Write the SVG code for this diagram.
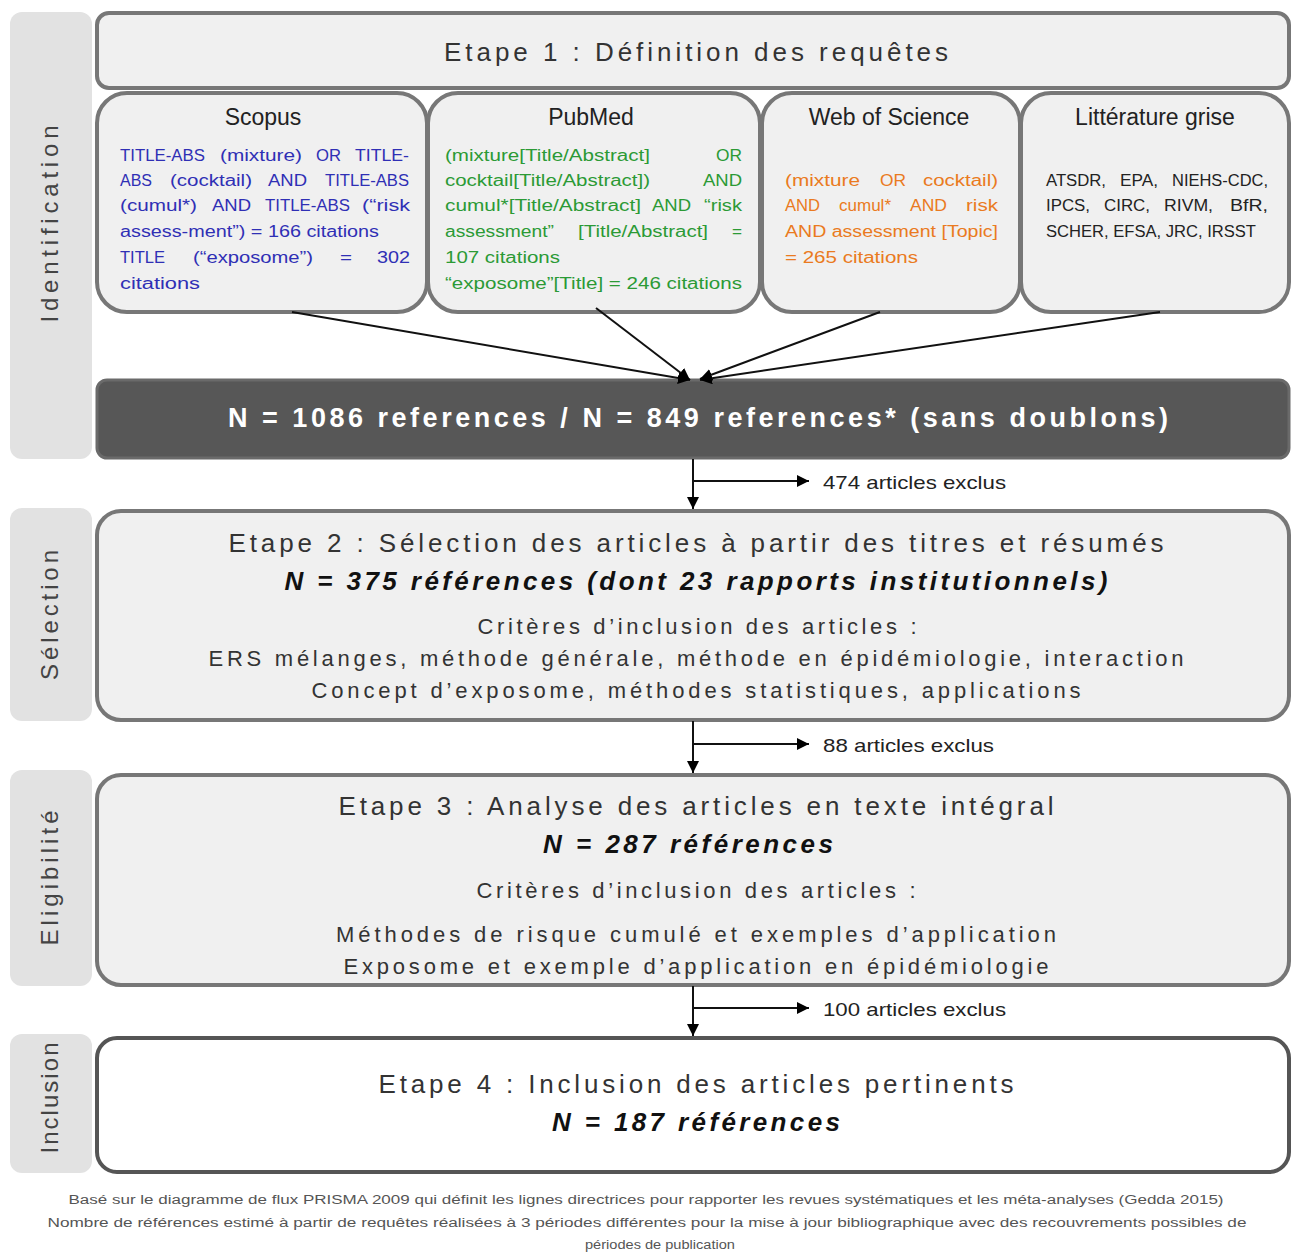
<svg xmlns="http://www.w3.org/2000/svg" width="1292" height="1254" viewBox="0 0 1292 1254">
<defs>
<marker id="ah" viewBox="0 0 10 10" refX="10" refY="5" markerWidth="12" markerHeight="12" markerUnits="userSpaceOnUse" orient="auto"><path d="M0,0 L10,5 L0,10 z" fill="#000"/></marker>
<style>
.side{fill:#e2e2e2}
.sideT{font-family:"Liberation Sans",Arial,sans-serif;font-size:24px;fill:#444;text-anchor:middle}
.box{fill:#f0f0f0;stroke:#777;stroke-width:4}
.src{fill:#f0f0f0;stroke:#777;stroke-width:4}
.t{font-family:"Liberation Sans",Arial,sans-serif;fill:#333;text-anchor:middle}
.big{font-size:26px}
.bi{font-size:26px;font-weight:bold;font-style:italic;fill:#111}
.mid{font-size:22px}
.ttl{font-family:"Liberation Sans",Arial,sans-serif;font-size:23px;fill:#222;text-anchor:middle}
.q{font-family:"Liberation Sans",Arial,sans-serif;font-size:16px}
.blue{fill:#2f2fb5}
.green{fill:#2b9a35}
.orange{fill:#ea7a20}
.dark{fill:#222}
.conn{stroke:#111;stroke-width:2;fill:none}
.ex{font-family:"Liberation Sans",Arial,sans-serif;font-size:19px;fill:#222}
.foot{font-family:"Liberation Sans",Arial,sans-serif;font-size:12.5px;fill:#555;text-anchor:middle}
</style>
</defs>
<rect width="1292" height="1254" fill="#fff"/>

<g id="lane-identification">
<rect class="side" x="10" y="12" width="82" height="447" rx="12"/>
<text class="sideT" transform="translate(58,224) rotate(-90)" textLength="197" lengthAdjust="spacing">Identification</text>
</g>
<g id="lane-selection">
<rect class="side" x="10" y="508" width="82" height="213" rx="12"/>
<text class="sideT" transform="translate(58,615) rotate(-90)" textLength="130" lengthAdjust="spacing">Sélection</text>
</g>
<g id="lane-eligibilite">
<rect class="side" x="10" y="770" width="82" height="216" rx="12"/>
<text class="sideT" transform="translate(58,878) rotate(-90)" textLength="135" lengthAdjust="spacing">Eligibilité</text>
</g>
<g id="lane-inclusion">
<rect class="side" x="10" y="1034" width="82" height="139" rx="12"/>
<text class="sideT" transform="translate(58,1098) rotate(-90)" textLength="111" lengthAdjust="spacing">Inclusion</text>
</g>

<g id="etape1">
<rect class="box" x="97" y="13" width="1192" height="75" rx="12"/>
<text class="t big" x="696" y="61" textLength="504" lengthAdjust="spacing">Etape 1 : Définition des requêtes</text>
</g>

<g id="scopus">
<rect class="src" x="97" y="93" width="330" height="219" rx="30"/>
<text class="ttl" x="263" y="125">Scopus</text>
<g class="q blue">
<text x="120" y="161" textLength="85" lengthAdjust="spacingAndGlyphs">TITLE-ABS</text>
<text x="220" y="161" textLength="82" lengthAdjust="spacingAndGlyphs">(mixture)</text>
<text x="316" y="161" textLength="25" lengthAdjust="spacingAndGlyphs">OR</text>
<text x="355" y="161" textLength="54" lengthAdjust="spacingAndGlyphs">TITLE-</text>
<text x="120" y="186" textLength="32" lengthAdjust="spacingAndGlyphs">ABS</text>
<text x="170" y="186" textLength="82" lengthAdjust="spacingAndGlyphs">(cocktail)</text>
<text x="268" y="186" textLength="39" lengthAdjust="spacingAndGlyphs">AND</text>
<text x="325" y="186" textLength="84" lengthAdjust="spacingAndGlyphs">TITLE-ABS</text>
<text x="120" y="211" textLength="77" lengthAdjust="spacingAndGlyphs">(cumul*)</text>
<text x="212" y="211" textLength="39" lengthAdjust="spacingAndGlyphs">AND</text>
<text x="265" y="211" textLength="85" lengthAdjust="spacingAndGlyphs">TITLE-ABS</text>
<text x="362" y="211" textLength="48" lengthAdjust="spacingAndGlyphs">(“risk</text>
<text x="120" y="237" textLength="259" lengthAdjust="spacingAndGlyphs">assess-ment”) = 166 citations</text>
<text x="120" y="263" textLength="45" lengthAdjust="spacingAndGlyphs">TITLE</text>
<text x="193" y="263" textLength="120" lengthAdjust="spacingAndGlyphs">(“exposome”)</text>
<text x="340" y="263" textLength="12" lengthAdjust="spacingAndGlyphs">=</text>
<text x="377" y="263" textLength="33" lengthAdjust="spacingAndGlyphs">302</text>
<text x="120" y="289" textLength="80" lengthAdjust="spacingAndGlyphs">citations</text>
</g>
</g>

<g id="pubmed">
<rect class="src" x="428" y="93" width="332" height="219" rx="30"/>
<text class="ttl" x="591" y="125">PubMed</text>
<g class="q green">
<text x="445" y="161" textLength="205" lengthAdjust="spacingAndGlyphs">(mixture[Title/Abstract]</text>
<text x="716" y="161" textLength="26" lengthAdjust="spacingAndGlyphs">OR</text>
<text x="445" y="186" textLength="205" lengthAdjust="spacingAndGlyphs">cocktail[Title/Abstract])</text>
<text x="703" y="186" textLength="39" lengthAdjust="spacingAndGlyphs">AND</text>
<text x="445" y="211" textLength="196" lengthAdjust="spacingAndGlyphs">cumul*[Title/Abstract]</text>
<text x="652" y="211" textLength="39" lengthAdjust="spacingAndGlyphs">AND</text>
<text x="704" y="211" textLength="38" lengthAdjust="spacingAndGlyphs">“risk</text>
<text x="445" y="237" textLength="109" lengthAdjust="spacingAndGlyphs">assessment”</text>
<text x="578" y="237" textLength="130" lengthAdjust="spacingAndGlyphs">[Title/Abstract]</text>
<text x="732" y="237" textLength="10" lengthAdjust="spacingAndGlyphs">=</text>
<text x="445" y="263" textLength="115" lengthAdjust="spacingAndGlyphs">107 citations</text>
<text x="445" y="289" textLength="297" lengthAdjust="spacingAndGlyphs">“exposome”[Title] = 246 citations</text>
</g>
</g>

<g id="wos">
<rect class="src" x="762" y="93" width="258" height="219" rx="30"/>
<text class="ttl" x="889" y="125">Web of Science</text>
<g class="q orange">
<text x="785" y="186" textLength="75" lengthAdjust="spacingAndGlyphs">(mixture</text>
<text x="880" y="186" textLength="26" lengthAdjust="spacingAndGlyphs">OR</text>
<text x="923" y="186" textLength="75" lengthAdjust="spacingAndGlyphs">cocktail)</text>
<text x="785" y="211" textLength="35" lengthAdjust="spacingAndGlyphs">AND</text>
<text x="839" y="211" textLength="52" lengthAdjust="spacingAndGlyphs">cumul*</text>
<text x="910" y="211" textLength="37" lengthAdjust="spacingAndGlyphs">AND</text>
<text x="966" y="211" textLength="32" lengthAdjust="spacingAndGlyphs">risk</text>
<text x="785" y="237" textLength="213" lengthAdjust="spacingAndGlyphs">AND assessment [Topic]</text>
<text x="785" y="263" textLength="133" lengthAdjust="spacingAndGlyphs">= 265 citations</text>
</g>
</g>

<g id="litterature">
<rect class="src" x="1021" y="93" width="268" height="219" rx="30"/>
<text class="ttl" x="1155" y="125">Littérature grise</text>
<g class="q dark">
<text x="1046" y="186" textLength="60" lengthAdjust="spacingAndGlyphs">ATSDR,</text>
<text x="1120" y="186" textLength="38" lengthAdjust="spacingAndGlyphs">EPA,</text>
<text x="1172" y="186" textLength="96" lengthAdjust="spacingAndGlyphs">NIEHS-CDC,</text>
<text x="1046" y="211" textLength="44" lengthAdjust="spacingAndGlyphs">IPCS,</text>
<text x="1104" y="211" textLength="46" lengthAdjust="spacingAndGlyphs">CIRC,</text>
<text x="1164" y="211" textLength="49" lengthAdjust="spacingAndGlyphs">RIVM,</text>
<text x="1230" y="211" textLength="38" lengthAdjust="spacingAndGlyphs">BfR,</text>
<text x="1046" y="237" textLength="210" lengthAdjust="spacingAndGlyphs">SCHER, EFSA, JRC, IRSST</text>
</g>
</g>

<g id="total">
<rect x="97" y="380" width="1192" height="78" rx="10" fill="#575757" stroke="#6a6a6a" stroke-width="3"/>
<text x="698" y="427" font-family="'Liberation Sans',Arial,sans-serif" font-size="27" font-weight="bold" fill="#fff" text-anchor="middle" textLength="940" lengthAdjust="spacing">N = 1086  references  /  N = 849  references*  (sans doublons)</text>
</g>

<g id="etape2">
<rect class="box" x="97" y="511" width="1192" height="209" rx="24"/>
<text class="t big" x="696" y="552" textLength="935" lengthAdjust="spacing">Etape 2 : Sélection des articles à partir des titres et résumés</text>
<text class="t bi" x="696" y="590" textLength="823" lengthAdjust="spacing">N = 375 références (dont 23 rapports institutionnels)</text>
<text class="t mid" x="697" y="634" textLength="439" lengthAdjust="spacing">Critères d’inclusion des articles :</text>
<text class="t mid" x="696" y="666" textLength="975" lengthAdjust="spacing">ERS mélanges, méthode générale, méthode en épidémiologie, interaction</text>
<text class="t mid" x="696" y="698" textLength="769" lengthAdjust="spacing">Concept d’exposome, méthodes statistiques, applications</text>
</g>

<g id="etape3">
<rect class="box" x="97" y="775" width="1192" height="210" rx="24"/>
<text class="t big" x="696" y="815" textLength="715" lengthAdjust="spacing">Etape 3 : Analyse des articles en texte intégral</text>
<text class="t bi" x="688" y="853" textLength="290" lengthAdjust="spacing">N = 287 références</text>
<text class="t mid" x="696" y="898" textLength="439" lengthAdjust="spacing">Critères d’inclusion des articles :</text>
<text class="t mid" x="696" y="942" textLength="720" lengthAdjust="spacing">Méthodes de risque cumulé et exemples d’application</text>
<text class="t mid" x="696" y="974" textLength="705" lengthAdjust="spacing">Exposome et exemple d’application en épidémiologie</text>
</g>

<g id="etape4">
<rect x="97" y="1038" width="1192" height="134" rx="20" fill="#fff" stroke="#555" stroke-width="4"/>
<text class="t big" x="696" y="1093" textLength="635" lengthAdjust="spacing">Etape 4 : Inclusion des articles pertinents</text>
<text class="t bi" x="696" y="1131" textLength="288" lengthAdjust="spacing">N = 187 références</text>
</g>

<g id="connectors">
<line class="conn" x1="292" y1="312" x2="690" y2="380" marker-end="url(#ah)"/>
<line class="conn" x1="596" y1="308" x2="690" y2="380" marker-end="url(#ah)"/>
<line class="conn" x1="880" y1="312" x2="700" y2="379" marker-end="url(#ah)"/>
<line class="conn" x1="1160" y1="312" x2="700" y2="380" marker-end="url(#ah)"/>
<line class="conn" x1="693" y1="459" x2="693" y2="509" marker-end="url(#ah)"/>
<line class="conn" x1="693" y1="481" x2="809" y2="481" marker-end="url(#ah)"/>
<line class="conn" x1="693" y1="721" x2="693" y2="773" marker-end="url(#ah)"/>
<line class="conn" x1="693" y1="744" x2="809" y2="744" marker-end="url(#ah)"/>
<line class="conn" x1="693" y1="986" x2="693" y2="1036" marker-end="url(#ah)"/>
<line class="conn" x1="693" y1="1008" x2="809" y2="1008" marker-end="url(#ah)"/>
</g>

<g id="exclusions">
<text class="ex" x="823" y="489" textLength="183" lengthAdjust="spacingAndGlyphs">474 articles exclus</text>
<text class="ex" x="823" y="752" textLength="171" lengthAdjust="spacingAndGlyphs">88 articles exclus</text>
<text class="ex" x="823" y="1016" textLength="183" lengthAdjust="spacingAndGlyphs">100 articles exclus</text>
</g>

<g id="footer">
<text class="foot" x="646" y="1204" textLength="1155" lengthAdjust="spacingAndGlyphs">Basé sur le diagramme de flux PRISMA 2009 qui définit les lignes directrices pour rapporter les revues systématiques et les méta-analyses (Gedda 2015)</text>
<text class="foot" x="647" y="1227" textLength="1199" lengthAdjust="spacingAndGlyphs">Nombre de références estimé à partir de requêtes réalisées à 3 périodes différentes pour la mise à jour bibliographique avec des recouvrements possibles de</text>
<text class="foot" x="660" y="1249" textLength="150" lengthAdjust="spacingAndGlyphs">périodes de publication</text>
</g>
</svg>
